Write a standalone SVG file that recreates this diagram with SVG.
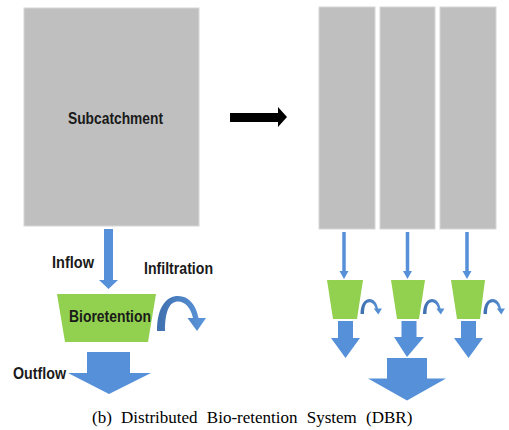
<svg xmlns="http://www.w3.org/2000/svg" width="509" height="430" viewBox="0 0 509 430">
  <defs>
    <linearGradient id="curveGrad" x1="0" y1="0" x2="1" y2="0">
      <stop offset="0" stop-color="#3f6fae"/>
      <stop offset="1" stop-color="#5b96db"/>
    </linearGradient>
    <style>
      .catch { fill: #bfbfbf; stroke: #d6d6d6; stroke-width: 1; }
      .bio { fill: #92d050; }
      .flow { fill: #5690d8; }
      .curve { fill: url(#curveGrad); }
      .lbl { font-family: "Liberation Sans", Arial, sans-serif; font-size: 16.5px; font-weight: bold; fill: #1a1a1a; }
      .cap { font-family: "Liberation Serif", "Times New Roman", serif; font-size: 17px; fill: #000; word-spacing: 5px; }
    </style>
  </defs>
  <rect width="509" height="430" fill="#ffffff"/>

  <!-- Left: single subcatchment system -->
  <g id="subcatchment">
    <rect class="catch" x="24" y="8" width="175" height="218"/>
    <text class="lbl" x="68" y="124" textLength="95" lengthAdjust="spacingAndGlyphs">Subcatchment</text>
  </g>
  <g id="bioretention">
    <polygon class="bio" points="57,294 156,294 148,342 65,342"/>
    <text class="lbl" x="69" y="322" textLength="82" lengthAdjust="spacingAndGlyphs">Bioretention</text>
  </g>

  <!-- Right: distributed subcatchments -->
  <g id="subcatchment-1"><rect class="catch" x="319" y="7" width="56" height="222"/></g>
  <g id="subcatchment-2"><rect class="catch" x="380" y="7" width="55" height="222"/></g>
  <g id="subcatchment-3"><rect class="catch" x="440" y="7" width="56" height="222"/></g>
  <g id="bioretention-1"><polygon class="bio" points="327,280 363,280 357,319 333,319"/></g>
  <g id="bioretention-2"><polygon class="bio" points="391,280 425,280 419,319 397,319"/></g>
  <g id="bioretention-3"><polygon class="bio" points="451,280 485,280 480,319 457,319"/></g>

  <g id="connectors">
    <!-- black transition arrow -->
    <polygon fill="#000" points="230,113 278,113 278,107 287,117 278,127 278,122 230,122"/>

    <!-- left inflow -->
    <polygon class="flow" points="104,229 113,229 113,280 118,280 108.5,289 99,280 104,280"/>
    <!-- left outflow -->
    <polygon class="flow" points="87,352 130,352 130,373 151,373 109,394 68,373 87,373"/>
    <!-- left infiltration curve -->
    <path class="curve" d="M157,331 C157,306 167,296 178,296 C189,296 196,305 198.5,318 L206,318 L197,331 L187.5,318 L193,318 C191,308 185,301.5 178,301.5 C170,301.5 165,310 165,331 Z"/>

    <!-- right inflows -->
    <polygon class="flow" points="342.25,232 345.75,232 345.75,271 348.5,271 344,279 339.5,271 342.25,271"/>
    <polygon class="flow" points="405.75,232 409.25,232 409.25,271 412,271 407.5,279 403,271 405.75,271"/>
    <polygon class="flow" points="465.25,232 468.75,232 468.75,271 471.5,271 467,279 462.5,271 465.25,271"/>

    <!-- right infiltration curves -->
    <path class="curve" d="M360.5,314 C360.5,304 365,299 369.5,299 C374,299 377,303 378,308.5 L382,308.5 L378.3,314.5 L373.8,308.5 L375.6,308.5 C374.6,304.5 372,302.2 369.5,302.2 C366.5,302.2 364,305 364,314 Z"/>
    <path class="curve" transform="translate(62.5,0)" d="M360.5,314 C360.5,304 365,299 369.5,299 C374,299 377,303 378,308.5 L382,308.5 L378.3,314.5 L373.8,308.5 L375.6,308.5 C374.6,304.5 372,302.2 369.5,302.2 C366.5,302.2 364,305 364,314 Z"/>
    <path class="curve" transform="translate(123,0)" d="M360.5,314 C360.5,304 365,299 369.5,299 C374,299 377,303 378,308.5 L382,308.5 L378.3,314.5 L373.8,308.5 L375.6,308.5 C374.6,304.5 372,302.2 369.5,302.2 C366.5,302.2 364,305 364,314 Z"/>

    <!-- right outflows -->
    <polygon class="flow" points="338,321 353,321 353,338 360,338 345.5,358 331,338 338,338"/>
    <polygon class="flow" points="401.5,321 416.5,321 416.5,337 424,337 407,357 394,337 401.5,337"/>
    <polygon class="flow" points="461,321 476,321 476,338 483,338 468.5,358 454,338 461,338"/>
    <!-- combined outflow -->
    <polygon class="flow" points="387,358 427,358 427,378.5 446,378.5 407,400.5 368,378.5 387,378.5"/>
  </g>

  <!-- labels -->
  <text class="lbl" x="52" y="268" textLength="42" lengthAdjust="spacingAndGlyphs">Inflow</text>
  <text class="lbl" x="144" y="274" textLength="69" lengthAdjust="spacingAndGlyphs">Infiltration</text>
  <text class="lbl" x="13" y="379" textLength="53" lengthAdjust="spacingAndGlyphs">Outflow</text>

  <text class="cap" x="92" y="423">(b) Distributed Bio-retention System (DBR)</text>
</svg>
